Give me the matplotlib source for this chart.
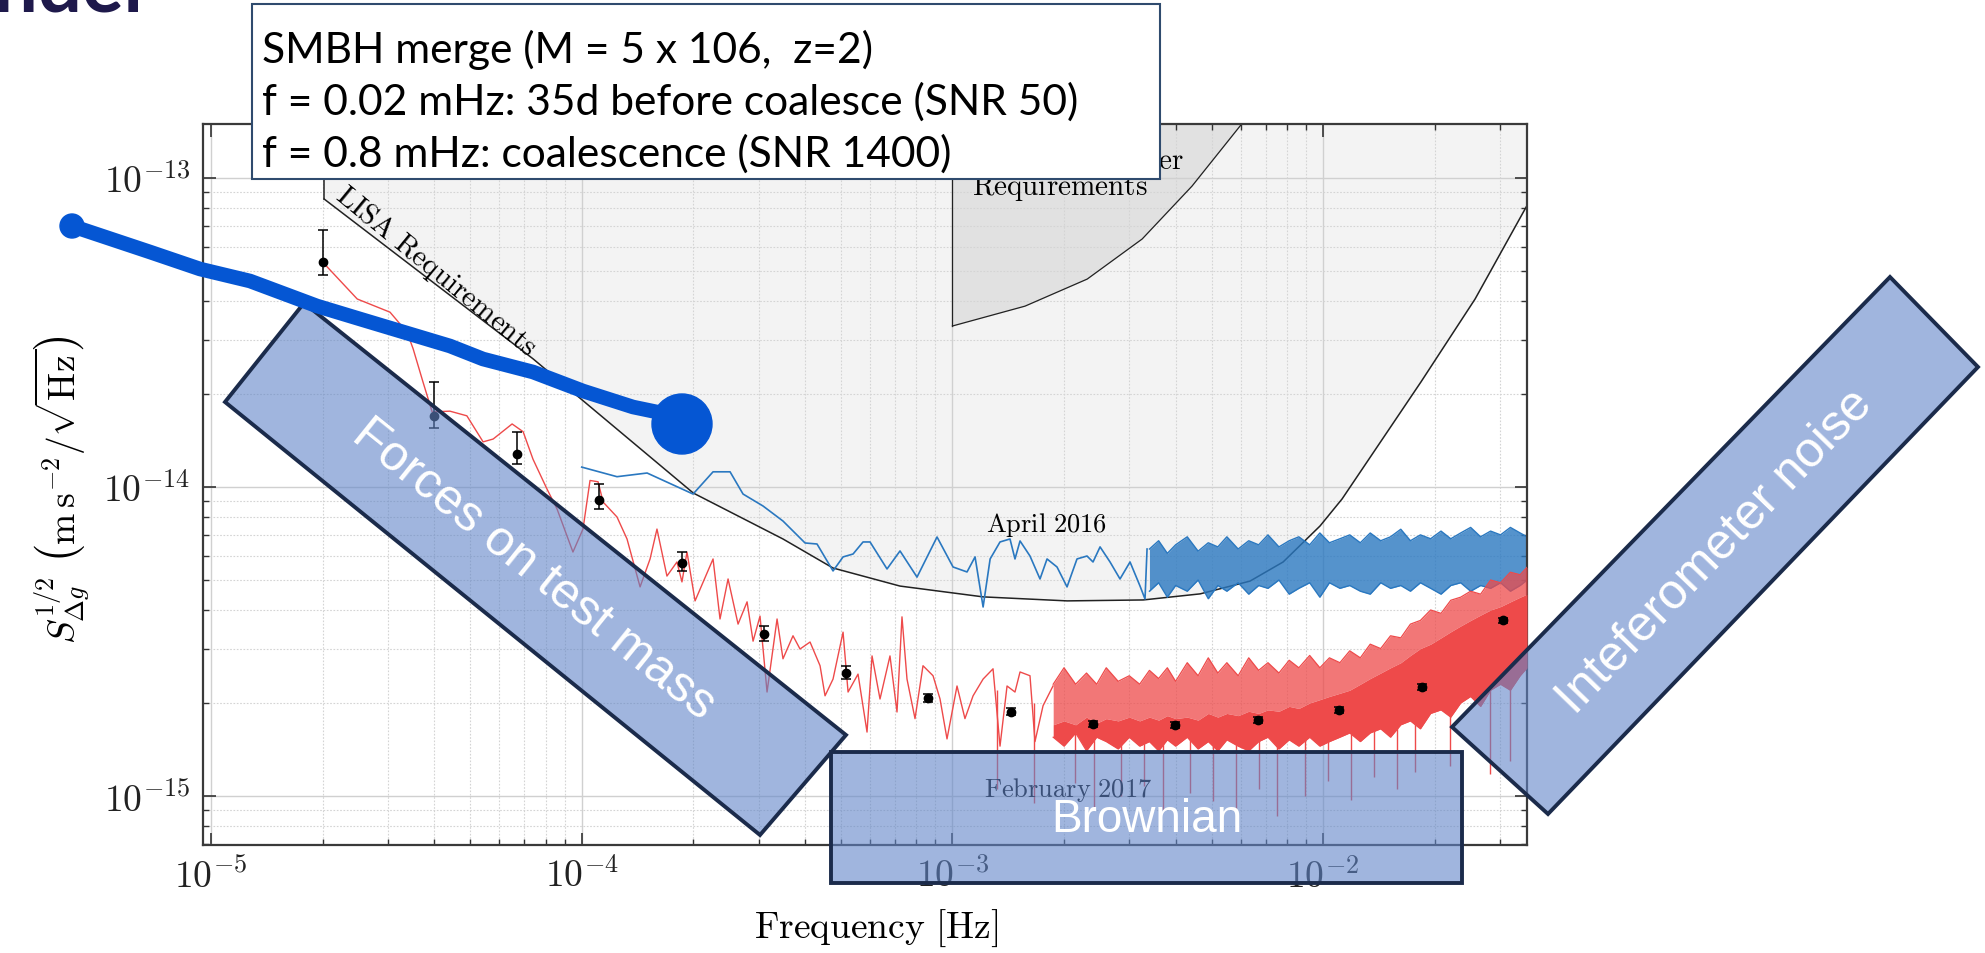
import numpy as np
import matplotlib.pyplot as plt
from matplotlib import ticker
from matplotlib.colors import to_rgba
from matplotlib.patches import Polygon, Rectangle, Circle

plt.rcParams['mathtext.fontset'] = 'cm'
plt.rcParams['font.family'] = ['DejaVu Sans']

# ---- values ----
# frequencies in Hz (band arrays in mHz), noise in units of 1e-15 m s^-2 / sqrt(Hz)
UNIT = 1e-15

# LISA requirement curve
lisa_f = np.array([2.02e-5, 7.39e-5, 2.00e-4, 3.49e-4, 4.76e-4, 7.22e-4, 1.21e-3, 2.04e-3,
                   3.27e-3, 4.66e-3, 6.35e-3, 7.80e-3, 9.81e-3, 1.125e-2, 1.837e-2, 2.57e-2, 3.53e-2])
lisa_s = np.array([85.5, 26.0, 9.56, 6.79, 5.47, 4.78, 4.41, 4.28,
                   4.31, 4.51, 4.96, 5.72, 7.48, 9.15, 21.9, 40.6, 80.6])

# LISA Pathfinder requirement curve
lpf_f = np.array([1.0e-3, 1.57e-3, 2.31e-3, 3.25e-3, 4.43e-3, 6.04e-3])
lpf_s = np.array([33.2, 38.5, 47.1, 63.5, 94.2, 150.0])

# April 2016 (blue), resolved part
apr_f = np.array([1.000e-4, 1.245e-4, 1.501e-4, 1.997e-4, 2.261e-4, 2.513e-4, 2.724e-4, 3.084e-4,
                  3.491e-4, 4.004e-4, 4.313e-4, 4.764e-4, 5.070e-4, 5.395e-4, 5.740e-4, 5.995e-4,
                  6.662e-4, 7.222e-4, 8.026e-4, 9.089e-4, 1.004e-3, 1.095e-3, 1.151e-3, 1.210e-3,
                  1.264e-3, 1.344e-3, 1.430e-3, 1.475e-3, 1.522e-3, 1.619e-3, 1.723e-3, 1.800e-3,
                  1.915e-3, 2.038e-3, 2.168e-3, 2.307e-3, 2.395e-3, 2.502e-3, 2.662e-3, 2.832e-3,
                  3.014e-3, 3.207e-3, 3.308e-3, 3.350e-3])
apr_s = np.array([11.6, 10.8, 11.1, 9.49, 11.2, 11.2, 9.49, 8.68,
                  7.76, 6.59, 6.54, 5.35, 5.94, 6.07, 6.64, 6.64,
                  5.43, 6.21, 5.11, 6.89, 5.51, 5.31, 5.94, 4.09,
                  5.85, 6.64, 6.79, 5.85, 6.69, 5.98, 5.04, 5.85,
                  5.51, 4.75, 5.85, 5.98, 5.72, 6.40, 5.72, 5.04,
                  5.72, 4.78, 4.34, 6.30])

# April 2016, dense high-frequency part (spike tops / bottoms of the trace)
apr_band_f = np.array([3.4, 3.6, 3.8, 4.0, 4.3, 4.6, 4.9, 5.2, 5.5, 5.9, 6.3, 6.7, 7.1, 7.6, 8.1,
                       8.6, 9.2, 9.8, 10.4, 11.1, 11.8, 12.6, 13.4, 14.3, 15.2, 16.2, 17.2, 18.3,
                       19.5, 20.8, 22.1, 23.5, 25.0, 26.6, 28.3, 30.1, 32.0, 34.0, 35.5])
apr_band_hi = np.array([6.3, 6.7, 6.1, 6.5, 6.9, 6.2, 6.6, 6.4, 6.9, 6.3,
                        6.7, 6.5, 7.0, 6.4, 6.7, 6.9, 6.5, 7.1, 6.6, 6.8,
                        7.0, 6.6, 7.1, 6.7, 6.9, 7.3, 6.7, 7.0, 6.8, 7.2,
                        6.8, 7.1, 7.4, 6.9, 7.2, 7.0, 7.4, 7.1, 6.9])
apr_band_lo = np.array([4.6, 4.9, 4.4, 4.8, 4.6, 5.0, 4.35, 4.8, 4.6, 4.9,
                        4.5, 4.8, 4.7, 5.0, 4.5, 4.7, 4.9, 4.4, 4.9, 4.7,
                        4.8, 4.6, 4.5, 4.9, 4.7, 4.8, 4.6, 4.9, 4.7, 4.5,
                        4.8, 4.9, 4.6, 4.8, 4.7, 4.9, 4.6, 4.8, 5.0])

# February 2017 (red), resolved part
feb_f = np.array([2.00e-5, 2.48e-5, 3.04e-5, 3.38e-5, 3.51e-5, 3.73e-5, 3.95e-5, 4.41e-5,
                  4.90e-5, 5.42e-5, 5.77e-5, 6.49e-5, 6.95e-5, 7.39e-5, 8.06e-5, 8.58e-5,
                  9.47e-5, 1.008e-4, 1.053e-4, 1.107e-4, 1.142e-4, 1.245e-4, 1.325e-4, 1.437e-4,
                  1.529e-4, 1.596e-4, 1.698e-4, 1.807e-4, 1.864e-4, 1.923e-4, 2.022e-4, 2.261e-4,
                  2.361e-4, 2.482e-4, 2.641e-4, 2.793e-4, 2.899e-4, 3.027e-4, 3.162e-4, 3.365e-4,
                  3.491e-4, 3.715e-4, 3.881e-4, 4.130e-4, 4.395e-4, 4.533e-4, 4.764e-4, 5.070e-4,
                  5.230e-4, 5.564e-4, 5.884e-4, 6.070e-4, 6.378e-4, 6.786e-4, 7.088e-4, 7.311e-4,
                  7.542e-4, 7.927e-4, 8.330e-4, 8.866e-4, 9.260e-4, 9.670e-4, 1.029e-3, 1.081e-3,
                  1.137e-3, 1.210e-3, 1.287e-3, 1.344e-3, 1.404e-3, 1.475e-3, 1.522e-3, 1.619e-3,
                  1.670e-3, 1.756e-3, 1.868e-3])
feb_s = np.array([53.5, 40.6, 36.8, 31.7, 28.0, 21.9, 17.5, 17.6,
                  17.0, 14.0, 14.3, 16.0, 15.1, 12.3, 9.85, 8.49,
                  6.16, 7.31, 10.5, 10.4, 8.94, 8.00, 6.79, 4.75,
                  5.85, 7.31, 5.15, 5.72, 4.93, 6.16, 4.28, 5.85,
                  3.74, 5.04, 3.60, 4.25, 3.17, 3.82, 2.17, 3.74,
                  2.78, 3.30, 2.99, 3.15, 2.64, 2.11, 2.39, 3.39,
                  2.17, 2.48, 1.61, 2.84, 2.06, 2.84, 1.87, 3.80,
                  2.39, 1.78, 2.64, 2.45, 2.06, 1.53, 2.27, 1.78,
                  2.11, 2.39, 2.58, 1.45, 2.27, 2.17, 2.52, 2.45,
                  1.50, 1.96, 2.27])

# February 2017, dense part: spike tops, solid core top, bottom, and deep downward spikes
feb_band_f = np.array([1.87, 2.0, 2.15, 2.3, 2.45, 2.6, 2.8, 3.0, 3.2,
                       3.4, 3.6, 3.8, 4.0, 4.3, 4.6, 4.9, 5.2, 5.5, 5.9, 6.3, 6.7, 7.1, 7.6, 8.1,
                       8.6, 9.2, 9.8, 10.4, 11.1, 11.8, 12.6, 13.4, 14.3, 15.2, 16.2, 17.2, 18.3,
                       19.5, 20.8, 22.1, 23.5, 25.0, 26.6, 28.3, 30.1, 32.0, 34.0, 35.5])
feb_band_hi = np.array([2.3, 2.6, 2.3, 2.5, 2.3, 2.6, 2.35, 2.45, 2.3,
                        2.55, 2.4, 2.6, 2.35, 2.7, 2.45, 2.8, 2.5, 2.7, 2.45, 2.8, 2.55,
                        2.7, 2.5, 2.75, 2.6, 2.85, 2.6, 2.8, 2.7, 2.95, 2.8, 3.1, 3.0,
                        3.3, 3.25, 3.6, 3.7, 4.0, 3.9, 4.3, 4.4, 4.6, 4.5, 5.0, 4.9,
                        5.3, 5.2, 5.5])
feb_band_core = np.array([1.7, 1.75, 1.7, 1.8, 1.72, 1.78, 1.75, 1.8, 1.75,
                          1.8, 1.76, 1.82, 1.78, 1.8, 1.76, 1.85, 1.8, 1.85, 1.82,
                          1.88, 1.85, 1.9, 1.88, 1.95, 1.92, 2.0, 2.05, 2.1, 2.15,
                          2.2, 2.3, 2.4, 2.5, 2.6, 2.7, 2.85, 3.0, 3.1, 3.25,
                          3.4, 3.55, 3.7, 3.85, 4.0, 4.1, 4.25, 4.4, 4.5])
feb_band_lo = np.array([1.55, 1.45, 1.6, 1.4, 1.55, 1.5, 1.42, 1.55, 1.45,
                        1.5, 1.4, 1.52, 1.45, 1.55, 1.42, 1.5, 1.4, 1.52, 1.45,
                        1.4, 1.5, 1.55, 1.42, 1.52, 1.45, 1.55, 1.45, 1.5, 1.55,
                        1.6, 1.5, 1.6, 1.65, 1.55, 1.7, 1.75, 1.65, 1.85, 1.9,
                        1.8, 2.0, 2.1, 1.95, 2.2, 2.3, 2.2, 2.45, 2.6])
feb_spike_f = np.array([1.32, 1.66, 2.14, 2.41, 2.85, 3.29, 3.70, 4.38, 5.05, 5.82, 6.72,
                        7.51, 8.94, 10.3, 11.9, 13.7, 15.8, 17.7, 22.0, 28.2, 31.9])
feb_spike_lo = np.array([1.05, 0.95, 1.10, 0.92, 1.00, 1.08, 0.90, 1.02, 0.96, 0.88, 1.05,
                         0.86, 1.00, 1.12, 0.97, 1.15, 1.05, 1.20, 1.25, 1.18, 1.30])
feb_spike_top = np.array([2.2, 2.0, 1.6, 1.6, 1.6, 1.6, 1.6, 1.6, 1.6, 1.6, 1.6,
                          1.6, 1.6, 1.6, 1.6, 1.7, 1.7, 1.8, 2.0, 2.3, 2.3])

# binned points with error bars
pt_f = np.array([2.0e-5, 4.0e-5, 6.69e-5, 1.113e-4, 1.864e-4, 3.10e-4, 5.16e-4, 8.60e-4,
                 1.439e-3, 2.395e-3, 3.985e-3, 6.675e-3, 1.104e-2, 1.848e-2, 3.058e-2])
pt_s = np.array([53.4, 17.0, 12.8, 9.08, 5.68, 3.34, 2.50, 2.07, 1.87, 1.71, 1.70, 1.76, 1.90, 2.25, 3.71])
pt_hi = np.array([67.9, 21.9, 15.1, 10.2, 6.16, 3.55, 2.64, 2.14, 1.92, 1.75, 1.74, 1.80, 1.94, 2.30, 3.78])
pt_lo = np.array([48.5, 15.5, 11.9, 8.49, 5.35, 3.17, 2.39, 2.01, 1.83, 1.67, 1.66, 1.72, 1.86, 2.20, 3.64])

BLUE = '#2a78c0'
RED = '#ee4a4a'
TOP = 1e-12

fig = plt.figure(figsize=(19.85, 9.54), dpi=100)
ax = fig.add_axes([203 / 1985, 108 / 954, 1324 / 1985, 721 / 954])
ax.set_xscale('log')
ax.set_yscale('log')
ax.set_xlim(0.9515e-5, 3.548e-2)
ax.set_ylim(0.694e-15, 149.6e-15)

# requirement regions
ax.fill_between(lisa_f, lisa_s * UNIT, TOP, color='#f3f3f3', lw=0, zorder=0.2)
ax.fill_between(lpf_f, lpf_s * UNIT, TOP, color='#e1e1e1', lw=0, zorder=0.3)
ax.plot(lisa_f, lisa_s * UNIT, color='#222222', lw=1.1, zorder=2)
ax.plot([lisa_f[0], lisa_f[0]], [lisa_s[0] * UNIT, TOP], color='#222222', lw=1.1, zorder=2)
ax.plot(lpf_f, lpf_s * UNIT, color='#222222', lw=0.9, zorder=2)
ax.plot([lpf_f[0], lpf_f[0]], [lpf_s[0] * UNIT, TOP], color='#222222', lw=0.9, zorder=2)

# April 2016
fb = apr_band_f * 1e-3
ax.plot(apr_f, apr_s * UNIT, color=BLUE, lw=1.2, zorder=2.5)
ax.fill_between(fb, apr_band_lo * UNIT, apr_band_hi * UNIT, color=BLUE, lw=0, alpha=0.8, zorder=2.5)
ax.plot(fb, apr_band_hi * UNIT, color=BLUE, lw=1.0, zorder=2.5)
ax.plot(fb, apr_band_lo * UNIT, color=BLUE, lw=1.0, zorder=2.5)

# February 2017
fr = feb_band_f * 1e-3
ax.plot(feb_f, feb_s * UNIT, color=RED, lw=1.0, zorder=3)
ax.fill_between(fr, feb_band_lo * UNIT, feb_band_core * UNIT, color=RED, lw=0, zorder=3)
ax.fill_between(fr, feb_band_core * UNIT, feb_band_hi * UNIT, color=RED, lw=0, alpha=0.75, zorder=3)
ax.plot(fr, feb_band_hi * UNIT, color=RED, lw=0.9, zorder=3)
ax.plot(fr, feb_band_lo * UNIT, color=RED, lw=0.9, zorder=3)
ax.vlines(feb_spike_f * 1e-3, feb_spike_lo * UNIT, feb_spike_top * UNIT, color=RED, lw=1.0, zorder=3)

ax.errorbar(pt_f, pt_s * UNIT, yerr=[(pt_s - pt_lo) * UNIT, (pt_hi - pt_s) * UNIT],
            fmt='o', color='black', ms=6, elinewidth=1.1, capsize=3.5, capthick=1.1, zorder=4)

# labels inside the plot
ax.text(4.04e-5, 50.0e-15, r'$\mathrm{LISA\ Requirements}$', rotation=-39.4,
        rotation_mode='anchor', ha='center', va='center', fontsize=21, zorder=5)
ax.text(2.18e-3, 115.2e-15, r'$\mathrm{LISA\ Pathfinder}$', ha='center', va='center', fontsize=21, zorder=5)
ax.text(1.95e-3, 93.5e-15, r'$\mathrm{Requirements}$', ha='center', va='center', fontsize=21, zorder=5)
ax.text(1.79e-3, 7.59e-15, r'$\mathrm{April\ 2016}$', ha='center', va='center', fontsize=19, zorder=5)
ax.text(2.05e-3, 1.05e-15, r'$\mathrm{February\ 2017}$', ha='center', va='center', fontsize=19, zorder=5)

# axes styling
ax.set_axisbelow(True)
ax.grid(True, which='major', color='#d0d0d0', lw=1.0)
ax.grid(True, which='minor', color='#d4d4d4', lw=0.8, ls=(0, (1.5, 1.5)))
for axis in (ax.xaxis, ax.yaxis):
    axis.set_major_locator(ticker.LogLocator(base=10, numticks=12))
    axis.set_minor_locator(ticker.LogLocator(base=10, subs=np.arange(2, 10), numticks=12))
    axis.set_major_formatter(ticker.FuncFormatter(lambda v, pos: r'$10^{%d}$' % round(np.log10(v))))
    axis.set_minor_formatter(ticker.NullFormatter())
ax.tick_params(which='both', direction='in', top=True, right=True, color='#333333', labelcolor='#222222')
ax.tick_params(which='major', length=9, width=1.2, labelsize=27, pad=9)
ax.tick_params(which='minor', length=4.5, width=1.0)
for s in ax.spines.values():
    s.set_linewidth(1.6)
    s.set_color('#3a3a3a')

fig.text(876 / 1985, 1 - 928 / 954, r'$\mathrm{Frequency\ [Hz]}$', ha='center', va='center', fontsize=27)
fig.text(62 / 1985, 1 - 490 / 954, r'$S_{\Delta g}^{1/2}\ \left(\mathrm{m\,s^{-2}}/\sqrt{\mathrm{Hz}}\right)$',
         rotation=90, ha='center', va='center', fontsize=27)

# ---- slide annotations drawn on top, in pixel coordinates ----
ov = fig.add_axes([0, 0, 1, 1], zorder=10)
ov.set_xlim(0, 1985)
ov.set_ylim(954, 0)
ov.axis('off')

box_fc = to_rgba('#6185c8', 0.6)
box_ec = '#1b2b4b'
sans = ['Liberation Sans', 'DejaVu Sans']

ov.add_patch(Polygon([(304, 304), (846, 736), (760, 836), (225, 403)], closed=True,
                     fc=box_fc, ec=box_ec, lw=2.8, zorder=1))
ov.text(534, 570, 'Forces on test mass', rotation=-38.8, rotation_mode='anchor',
        ha='center', va='center', color='white', fontsize=36, family=sans, zorder=2)

ov.add_patch(Rectangle((831, 753), 631, 131, fc=box_fc, ec=box_ec, lw=2.8, zorder=1))
ov.text(1147, 820, 'Brownian', ha='center', va='center', color='white', fontsize=33, family=sans, zorder=2)

ov.add_patch(Polygon([(1890, 278), (1978, 368), (1548, 815), (1452, 728)], closed=True,
                     fc=box_fc, ec=box_ec, lw=2.8, zorder=1))
ov.text(1715, 552, 'Inteferometer noise', rotation=46, rotation_mode='anchor',
        ha='center', va='center', color='white', fontsize=36, family=sans, zorder=2)

# hand-drawn SMBH track
stroke_x = [72, 150, 200, 250, 317, 360, 410, 450, 483, 533, 583, 633, 657, 682]
stroke_y = [227, 253, 270, 282, 307, 320, 335, 347, 360, 373, 392, 408, 413, 425]
ov.plot(stroke_x, stroke_y, color='#0556d3', lw=10.5, solid_capstyle='round',
        solid_joinstyle='round', zorder=3)
ov.add_patch(Circle((682, 425), 30, color='#0556d3', zorder=3))
ov.add_patch(Circle((72, 227), 12, color='#0556d3', zorder=3))

# info box; font size chosen so the widest line spans the same width as in the slide
ov.add_patch(Rectangle((252, 5), 908, 175, fc='white', ec='#2f4b6e', lw=1.5, zorder=5))
info_lines = ['SMBH merge (M = 5 x 106,  z=2)',
              'f = 0.02 mHz: 35d before coalesce (SNR 50)',
              'f = 0.8 mHz: coalescence (SNR 1400)']
info_texts = [ov.text(262, yb, line, ha='left', va='baseline', fontsize=34, color='black',
                      family=['Lato', 'DejaVu Sans'], zorder=6)
              for line, yb in zip(info_lines, [63, 115, 167])]
renderer = fig.canvas.get_renderer()
w = info_texts[1].get_window_extent(renderer).width
for t in info_texts:
    t.set_fontsize(34 * 818 / w)

# slide title, mostly cut off at the top
ov.text(153, 12, 'Pathfinder', ha='right', va='baseline', fontsize=56, fontweight='bold',
        color='#1e194b', family=['Lato', 'DejaVu Sans'], zorder=6)

fig.savefig('out.png', dpi=100)
